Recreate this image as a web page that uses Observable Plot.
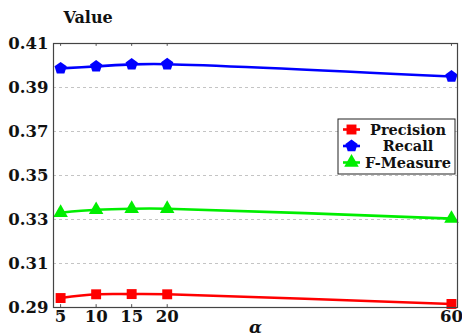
<!DOCTYPE html>
<html>
<head>
<meta charset="utf-8">
<script src="https://cdn.jsdelivr.net/npm/d3@7"></script>
<script src="https://cdn.jsdelivr.net/npm/@observablehq/plot@0.6"></script>
<style>
  body { margin: 0; background: #fff; }
  #chart { position: relative; width: 462px; height: 336px; overflow: hidden; }
</style>
</head>
<body>
<div id="chart"></div>
<script>
const alphas = [5, 10, 15, 20, 60];
const precision = [0.2943, 0.2960, 0.2961, 0.2960, 0.2916];
const recall = [0.3987, 0.3996, 0.4005, 0.4006, 0.3950];
const fmeasure = [0.3331, 0.3344, 0.3349, 0.3349, 0.3304];
const yTicks = [0.29, 0.31, 0.33, 0.35, 0.37, 0.39, 0.41];
const seriesNames = ["Precision", "Recall", "F-Measure"];
const seriesColors = ["#ff0000", "#0000ff", "#00ee00"];

const pentagon = {
  draw(context, size) {
    const r = Math.sqrt(size / Math.PI) * 1.15;
    for (let k = 0; k < 5; k++) {
      const a = -Math.PI / 2 + k * 2 * Math.PI / 5;
      const x = r * Math.cos(a), y = r * Math.sin(a);
      if (k === 0) context.moveTo(x, y); else context.lineTo(x, y);
    }
    context.closePath();
  }
};
const symbols = ["square", pentagon, "triangle"];
const sizes = [5.6, 5.6, 5.4];

const data = [];
[precision, recall, fmeasure].forEach((vals, i) => {
  vals.forEach((v, j) => data.push({series: seriesNames[i], alpha: alphas[j], value: v}));
});

const font = "'DejaVu Serif', serif";
const plot = Plot.plot({
  width: 462,
  height: 336,
  marginLeft: 53,
  marginRight: 5,
  marginTop: 43,
  marginBottom: 29,
  style: {fontFamily: font, fontWeight: "bold", fontSize: "16px", color: "#111", background: "#fff"},
  x: {domain: [4.0, 60.85]},
  y: {domain: [0.29, 0.41]},
  marks: [
    Plot.ruleY(yTicks.slice(1, -1), {stroke: "#c4c4c4", strokeDasharray: "3,3", strokeWidth: 1}),
    Plot.ruleX(alphas, {x: d => d, y1: 0.41, y2: 0.4087, stroke: "#555", strokeWidth: 1}),
    Plot.ruleX(alphas, {x: d => d, y1: 0.29, y2: 0.2913, stroke: "#555", strokeWidth: 1}),
    Plot.axisY({ticks: yTicks, tickSize: 0, tickPadding: 5, tickFormat: d3.format(".2f"), fontSize: 16.5, label: null}),
    Plot.axisX({ticks: alphas, tickSize: 0, tickPadding: 3, fontSize: 16.5, label: null}),
    ...seriesNames.map((name, i) => Plot.line(data.filter(d => d.series === name), {
      x: "alpha", y: "value", stroke: seriesColors[i], strokeWidth: 2.6, curve: "catmull-rom"
    })),
    ...seriesNames.map((name, i) => Plot.dot(data.filter(d => d.series === name), {
      x: "alpha", y: "value", fill: seriesColors[i], symbol: () => symbols[i], r: sizes[i]
    })),
    Plot.frame({stroke: "#444", strokeWidth: 1.2}),
    Plot.text(["Value"], {frameAnchor: "top-left", dx: 63 - 53, dy: -43 + 17, text: d => d, fontSize: 16, textAnchor: "start", lineAnchor: "middle"}),
    Plot.text(["α"], {frameAnchor: "bottom", dy: 29 - 9, text: d => d, fontSize: 17, fontStyle: "italic", lineAnchor: "middle"})
  ]
});
document.getElementById("chart").appendChild(plot);

// legend inside the plot
const svg = d3.select(plot);
const g = svg.append("g").attr("font-family", font).attr("font-weight", "bold").attr("font-size", 14.5);
g.append("rect").attr("x", 338).attr("y", 119).attr("width", 117).attr("height", 55)
  .attr("fill", "#fff").attr("stroke", "#222").attr("stroke-width", 1);
const rowsY = [129.5, 146, 162.5];
seriesNames.forEach((name, i) => {
  g.append("line").attr("x1", 343).attr("x2", 360).attr("y1", rowsY[i]).attr("y2", rowsY[i])
    .attr("stroke", seriesColors[i]).attr("stroke-width", 2.6);
  const sym = d3.symbol().type(i === 1 ? pentagon : (i === 0 ? d3.symbolSquare : d3.symbolTriangle)).size(Math.PI * sizes[i] * sizes[i]);
  g.append("path").attr("d", sym()).attr("transform", `translate(351.5,${rowsY[i]})`).attr("fill", seriesColors[i]);
  g.append("text").attr("x", 408).attr("y", rowsY[i]).attr("dy", "0.35em").attr("text-anchor", "middle")
    .attr("fill", "#111").text(name);
});
</script>
</body>
</html>
